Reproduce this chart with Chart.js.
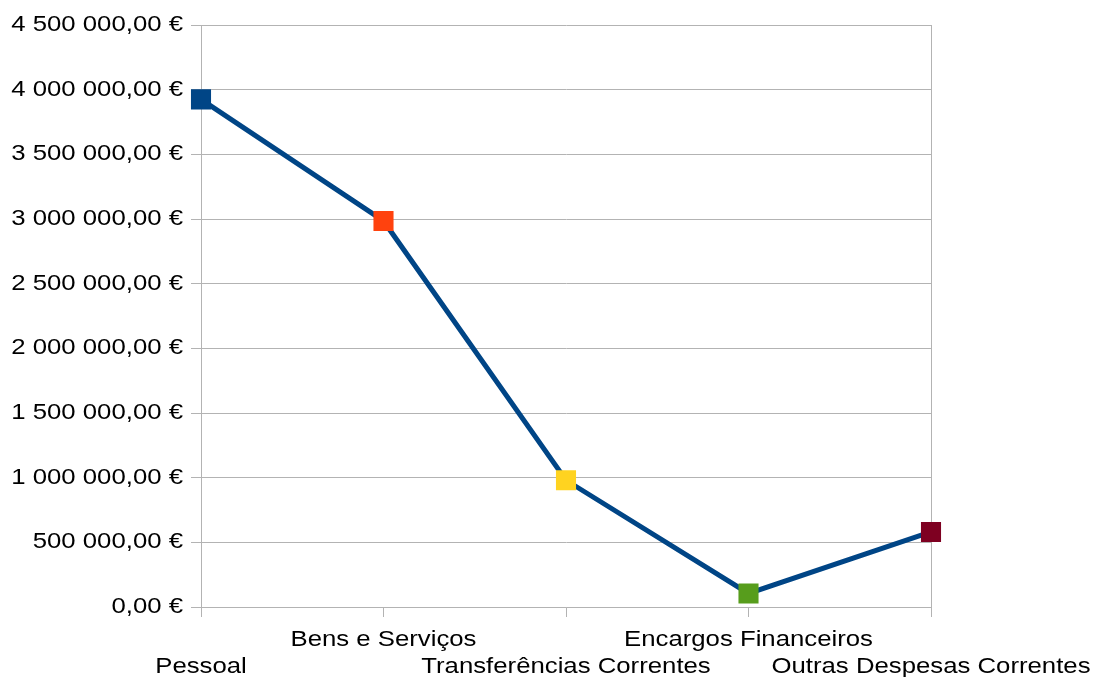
<!DOCTYPE html>
<html>
<head>
<meta charset="utf-8">
<title>Despesas Correntes</title>
<script src="https://cdn.jsdelivr.net/npm/chart.js@4/dist/chart.umd.min.js"></script>
<style>
  html, body { margin: 0; padding: 0; background: #ffffff; }
  #wrap { width: 1093px; height: 677px; position: relative; }
</style>
</head>
<body>
<div id="wrap"><canvas id="chart"></canvas></div>
<script>
// Expense categories and amounts (EUR)
const categories = ['Pessoal', 'Bens e Serviços', 'Transferências Correntes', 'Encargos Financeiros', 'Outras Despesas Correntes'];
const despesas = [3925000, 2985000, 980000, 105000, 580000];
const markerColors = ['#004586', '#ff420e', '#ffd320', '#579d1c', '#7e0021'];

// Value axis range
const yMin = 0;
const yMax = 4500000;
const yStep = 500000;

const lineColor = '#004586';
const gridColor = '#b3b3b3';

// "4 500 000,00 €" style currency labels
function euro(v) {
  const parts = Math.abs(v).toFixed(2).split('.');
  const intPart = parts[0].replace(/\B(?=(\d{3})+(?!\d))/g, ' ');
  return (v < 0 ? '-' : '') + intPart + ',' + parts[1] + ' €';
}

// Category labels alternate between two rows so the long names do not collide
const xLabels = categories.map((c, i) => (i % 2 === 1 ? c : ['', c]));

const canvas = document.getElementById('chart');
const ctx = canvas.getContext('2d');

// Text is drawn slightly expanded horizontally (wide lettering)
const TEXT_STRETCH = 1.17;
const baseFillText = ctx.fillText;
const baseMeasureText = ctx.measureText;
ctx.fillText = function (text, x, y, maxWidth) {
  this.save();
  this.translate(x, y);
  this.scale(TEXT_STRETCH, 1);
  if (maxWidth === undefined) baseFillText.call(this, text, 0, 0);
  else baseFillText.call(this, text, 0, 0, maxWidth / TEXT_STRETCH);
  this.restore();
};
ctx.measureText = function (text) {
  const m = baseMeasureText.call(this, text);
  return { width: m.width * TEXT_STRETCH,
           actualBoundingBoxAscent: m.actualBoundingBoxAscent,
           actualBoundingBoxDescent: m.actualBoundingBoxDescent };
};

Chart.defaults.font.family = '"Liberation Sans", Arial, sans-serif';
Chart.defaults.font.size = 22;
Chart.defaults.color = '#000000';

new Chart(ctx, {
  type: 'line',
  data: {
    labels: xLabels,
    datasets: [{
      label: 'Despesas',
      data: despesas,
      borderColor: lineColor,
      borderWidth: 5,
      tension: 0,
      fill: false,
      pointStyle: 'rect',
      pointRadius: 14.2,
      pointHoverRadius: 14.2,
      pointBorderWidth: 0,
      pointBackgroundColor: markerColors,
      pointBorderColor: markerColors
    }]
  },
  options: {
    responsive: true,
    maintainAspectRatio: false,
    animation: false,
    layout: { padding: { top: 25, right: 162, bottom: 0, left: 0 } },
    plugins: {
      legend: { display: false },
      tooltip: { enabled: false }
    },
    scales: {
      x: {
        offset: false,
        grid: {
          color: (c) => (c.index === 0 || c.index === categories.length - 1 ? gridColor : 'rgba(0,0,0,0)'),
          tickColor: gridColor,
          tickLength: 10,
          lineWidth: 1
        },
        border: { color: gridColor, width: 1 },
        ticks: {
          autoSkip: false,
          maxRotation: 0,
          minRotation: 0,
          padding: 10,
          font: { size: 22, lineHeight: 1.2 }
        },
        afterFit: (s) => {
          s.height = 70;
          s.paddingLeft = 0;
          s.paddingRight = 0;
        }
      },
      y: {
        min: yMin,
        max: yMax,
        grid: { color: gridColor, tickColor: gridColor, tickLength: 10, lineWidth: 1 },
        border: { color: gridColor, width: 1 },
        ticks: {
          stepSize: yStep,
          padding: 8,
          font: { size: 22 },
          callback: (v) => euro(v)
        },
        afterFit: (s) => { s.width = 201; }
      }
    }
  }
});
</script>
</body>
</html>
